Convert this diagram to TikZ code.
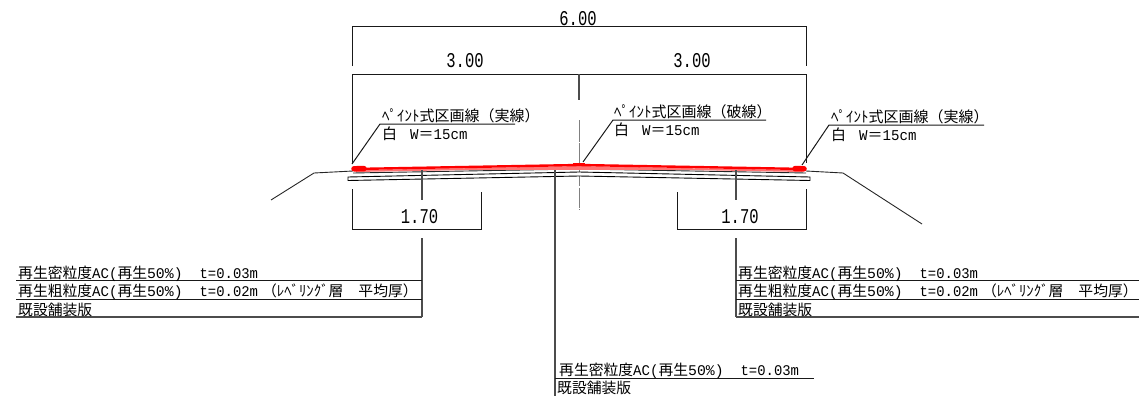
\documentclass[tikz,border=0pt]{standalone}
\usepackage{fontspec}
\setmainfont{Noto Sans CJK JP}
\newfontfamily\dimfont[FakeStretch=0.74]{Liberation Mono}
\newfontfamily\lat[FakeStretch=0.95]{Liberation Mono}
\newfontfamily\latw[FakeStretch=0.94]{Liberation Mono}
\newfontfamily\latx{Liberation Mono}
\newcommand{\rowa}{再生密粒度{\lat AC(}再生{\latx 50\%)}\hspace{17pt}{\latw t=0.03m}}
\newcommand{\rowb}{再生粗粒度{\lat AC(}再生{\latx 50\%)}\hspace{17pt}{\latw t=0.02m}\hspace{4pt}（ﾚﾍﾞﾘﾝｸﾞ層\hspace{15pt}平均厚）}
\newcommand{\white}{白\hspace{13pt}{\latw W}＝{\latw 15cm}}
\tikzset{
  x=1pt,y=-1pt,
  ln/.style={draw=black!90,line width=1pt},
  vl/.style={draw=black!70,line width=1.1pt},
  road/.style={draw=black!85,line width=.9pt},
  paint/.style={draw=red,line width=2.4pt},
  wedge/.style={fill=red!55,draw=none},
  paintmark/.style={draw=red,line width=5.5pt,line cap=round},
  dim/.style={font=\fontsize{21}{21}\dimfont,inner sep=0pt,anchor=base},
  lab/.style={font=\fontsize{15}{15}\selectfont,inner sep=0pt,anchor=base west},
  row/.style={font=\fontsize{14.8}{15}\selectfont,inner sep=0pt,anchor=base west},
}
\begin{document}
\begin{tikzpicture}
\useasboundingbox (0,0) rectangle (1139,396);
% dimensions
\node[dim] (d6) at (578,26) {6.00};
\node[dim] (d3a) at (465,67) {3.00};
\node[dim] (d3b) at (692,67) {3.00};
\node[dim] (d17a) at (419.5,223) {1.70};
\node[dim] (d17b) at (740,223) {1.70};
\draw[ln] (352,66)--(352,27)--(806,27)--(806,66);
\draw[ln] (352,163)--(352,74)--(806,74)--(806,163);
\draw[vl] (579,74)--(579,100);
\draw[ln] (352,189)--(352,229)--(481,229)--(481,192);
\draw[ln] (677,192)--(677,229)--(806,229)--(806,189);
% centre line
\draw[draw=black!50,line width=1pt,dash pattern=on 22pt off 1.2pt on 20pt off 1.2pt] (579,120)--(579,209);
% road
\draw[road] (271,200)--(314,173)--(353,171);
\draw[road] (806,171)--(843,173)--(922,224);
\draw[road] (353,173)--(579,169)--(806,173);
\draw[road,draw=black,fill=white] (348,177)--(348,180.5)--(579,176)--(810,180.5)--(810,177)--(579,172)--cycle;
\fill[wedge] (356,170)--(480,168)--(579,166)--(677,168)--(802,170)--(802,172)--(677,169.8)--(480,169.8)--(356,172)--cycle;
\draw[paint] (353,169)--(579,165)--(806,169);
\draw[paintmark] (354,168.8)--(364,168.6);
\draw[paintmark] (795,168.6)--(804,168.8);
\draw[red,line width=2.5pt] (573,164)--(585,164);
% paint labels
\coordinate (pa) at (352,164);
\coordinate (pb) at (583,162);
\coordinate (pc) at (802,165);
\draw[ln] (pa)--(380,124)--(515,124);
\draw[ln] (pb)--(613,120)--(766,120);
\draw[ln] (pc)--(829,125)--(984,125);
\node[lab] (a1) at (382,121.5) {ﾍﾟｲﾝﾄ式区画線（実線）};
\node[lab] (a2) at (382,139) {\white};
\node[lab] (b1) at (614,117.5) {ﾍﾟｲﾝﾄ式区画線（破線）};
\node[lab] (b2) at (614,135) {\white};
\node[lab] (c1) at (831,122.5) {ﾍﾟｲﾝﾄ式区画線（実線）};
\node[lab] (c2) at (831,140) {\white};
% leaders
\draw[vl] (422,170)--(422,200);
\draw[vl] (736,170)--(736,200);
\draw[vl] (422,238)--(422,317);
\draw[vl] (736,238)--(736,317);
\draw[ln] (16,280)--(422,280);
\draw[ln] (16,299)--(422,299);
\draw[vl] (16,317)--(422,317);
\draw[ln] (736,280)--(1139,280);
\draw[ln] (736,299)--(1139,299);
\draw[vl] (736,317)--(1139,317);
\draw[vl] (555,170)--(555,396);
\draw[ln] (555,378)--(814,378);
\node[row] (l1) at (18,278) {\rowa};
\node[row] (l2) at (18,296) {\rowb};
\node[row] (l3) at (18,315) {既設舗装版};
\node[row] (r1) at (738,278) {\rowa};
\node[row] (r2) at (738,296) {\rowb};
\node[row] (r3) at (738,315) {既設舗装版};
\node[row] (m1) at (559,375) {\rowa};
\node[row] (m3) at (557,393) {既設舗装版};
\end{tikzpicture}
\end{document}
